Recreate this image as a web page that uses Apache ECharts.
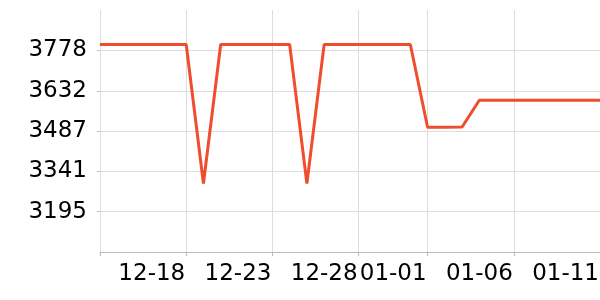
<!DOCTYPE html>
<html>
<head>
<meta charset="utf-8">
<script src="https://cdn.jsdelivr.net/npm/echarts@6/dist/echarts.min.js"></script>
<style>html,body{margin:0;padding:0;background:#fff;}#c{width:600px;height:300px;}</style>
</head>
<body>
<div id="c"></div>
<script>
const dates = [
  '2023-12-13','2023-12-14','2023-12-15','2023-12-16','2023-12-17','2023-12-18',
  '2023-12-19','2023-12-20','2023-12-21','2023-12-22','2023-12-23','2023-12-24',
  '2023-12-25','2023-12-26','2023-12-27','2023-12-28','2023-12-29','2023-12-30',
  '2023-12-31','2024-01-01','2024-01-02','2024-01-03','2024-01-04','2024-01-05',
  '2024-01-06','2024-01-07','2024-01-08','2024-01-09','2024-01-10','2024-01-11'
];
const values = [
  3799, 3799, 3799, 3799, 3799, 3799,
  3297, 3799, 3799, 3799, 3799, 3799,
  3297, 3799, 3799, 3799, 3799, 3799,
  3799, 3500, 3500, 3501, 3598, 3598,
  3598, 3598, 3598, 3598, 3598, 3598
];
const yTicks = [3195, 3341, 3487, 3632, 3778];
const xTickDates = ['2023-12-13','2023-12-18','2023-12-23','2023-12-28','2024-01-01','2024-01-06','2024-01-11'];
const xLabelDates = ['2023-12-18','2023-12-23','2023-12-28','2024-01-01','2024-01-06','2024-01-11'];
const yMin = 3049.6;
const yMax = 3923.8;
const xMin = '2023-12-13';
const xMax = '2024-01-11';

const toTs = s => +echarts.time.parse(s);

const chart = echarts.init(document.getElementById('c'), null, {renderer: 'canvas'});
chart.setOption({
  animation: false,
  grid: {left: 100, right: 0, top: 10, bottom: 48, containLabel: false, outerBoundsMode: 'none'},
  xAxis: {
    type: 'value',
    min: toTs(xMin),
    max: toTs(xMax),
    axisLine: {show: true, lineStyle: {color: '#bbbbbb', width: 1}},
    axisTick: {show: true, length: 4, customValues: xTickDates.map(toTs), lineStyle: {color: '#bbbbbb'}},
    splitLine: {show: true, lineStyle: {color: '#dddddd', width: 1}},
    axisLabel: {
      customValues: xLabelDates.map(toTs),
      formatter: v => echarts.time.format(v, '{MM}-{dd}', false),
      color: '#000',
      fontFamily: 'DejaVu Sans',
      fontSize: 23,
      margin: 11,
      align: 'right',
      padding: [0, 1, 0, 0],
      hideOverlap: false
    }
  },
  yAxis: {
    type: 'value',
    min: yMin,
    max: yMax,
    axisLine: {show: false},
    axisTick: {show: true, length: 3, customValues: yTicks, lineStyle: {color: '#bbbbbb'}},
    splitLine: {show: true, lineStyle: {color: '#dddddd', width: 1}},
    axisLabel: {
      customValues: yTicks,
      formatter: v => String(Math.round(v)),
      color: '#000',
      fontFamily: 'DejaVu Sans',
      fontSize: 23,
      margin: 13
    }
  },
  series: [{
    type: 'line',
    data: dates.map((d, i) => [toTs(d), values[i]]),
    showSymbol: false,
    symbol: 'none',
    lineStyle: {color: '#f04c2e', width: 3},
    itemStyle: {color: '#f04c2e'}
  }]
});
</script>
</body>
</html>
